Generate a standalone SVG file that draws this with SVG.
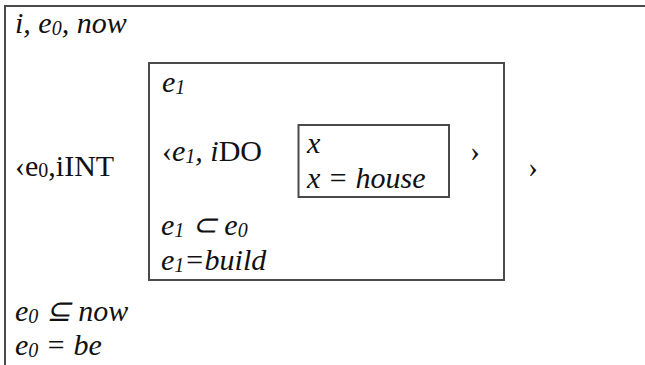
<svg xmlns="http://www.w3.org/2000/svg" width="645" height="365" viewBox="0 0 645 365">
<style>
.t{font-family:"Liberation Serif","Times New Roman",serif;font-size:30px;fill:#111}
.i{font-style:italic}
.s{font-size:20px}
.frame{fill:none;stroke:#4a4a4a;stroke-width:2}
</style>
<rect width="645" height="365" fill="#fff"/>
<g id="outer">
<path class="frame" d="M5,365 V6 H645"/>
<text class="t i" x="15" y="33">i, e<tspan class="s" dy="2">0</tspan><tspan dy="-2">, now</tspan></text>
<text class="t" x="15" y="176">‹e<tspan class="s" dy="1">0</tspan><tspan dy="-1">,iINT</tspan></text>
<text class="t" x="528" y="177">›</text>
<text class="t i" x="15" y="321">e<tspan class="s" dy="2">0</tspan><tspan dy="-2"> ⊆ now</tspan></text>
<text class="t i" x="15" y="355">e<tspan class="s" dy="2">0</tspan><tspan dy="-2"> = be</tspan></text>
</g>
<g id="box-e1">
<rect class="frame" x="149" y="63" width="355" height="217"/>
<text class="t i" x="162" y="92">e<tspan class="s" dy="2">1</tspan></text>
<text class="t" x="162" y="161">‹<tspan class="i">e</tspan><tspan class="s i" dy="2">1</tspan><tspan class="i" dy="-2">, i</tspan>DO</text>
<text class="t" x="470" y="161">›</text>
<text class="t i" x="161" y="235">e<tspan class="s" dy="2">1</tspan><tspan dy="-2"> ⊂ e</tspan><tspan class="s" dy="2">0</tspan></text>
<text class="t i" x="161" y="270">e<tspan class="s" dy="2">1</tspan><tspan dy="-2">=build</tspan></text>
</g>
<g id="box-x">
<rect class="frame" x="298.5" y="125" width="150.5" height="72"/>
<text class="t i" x="307" y="153">x</text>
<text class="t i" x="307" y="188">x = house</text>
</g>
</svg>
